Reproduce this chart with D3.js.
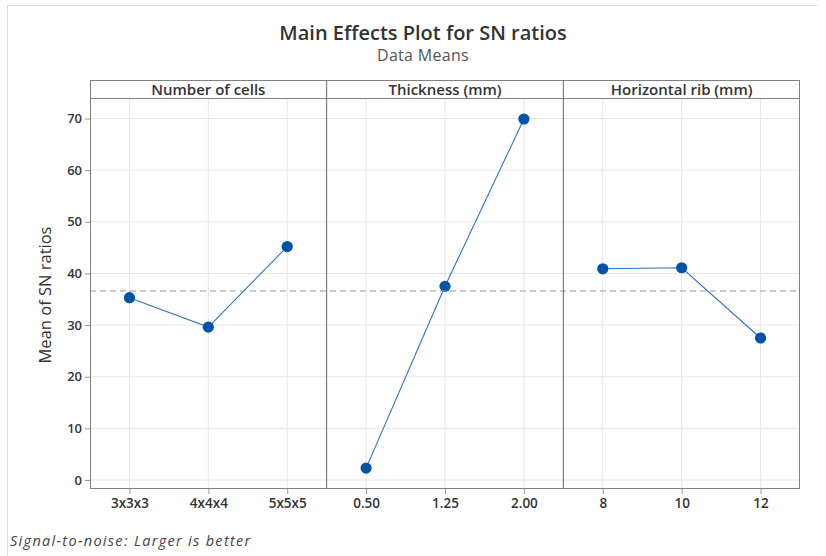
<!DOCTYPE html>
<html><head><meta charset="utf-8">
<script src="https://cdn.jsdelivr.net/npm/d3@7"></script>
<style>
html,body{margin:0;padding:0;background:#fff;}
svg{display:block;font-family:"Open Sans","Noto Sans",sans-serif;}
</style></head>
<body><svg id="c" width="826" height="556"></svg>
<script>
const factors = ["Number of cells", "Thickness (mm)", "Horizontal rib (mm)"];
const levelsCells = ["3x3x3", "4x4x4", "5x5x5"];
const levelsThick = ["0.50", "1.25", "2.00"];
const levelsRib = ["8", "10", "12"];
const meansCells = [35.3, 29.6, 45.2];
const meansThick = [2.3, 37.5, 69.9];
const meansRib = [40.9, 41.1, 27.5];
const grandMean = 36.6;
const yTicks = [0, 10, 20, 30, 40, 50, 60, 70];

const levels = [levelsCells, levelsThick, levelsRib];
const means = [meansCells, meansThick, meansRib];

const svg = d3.select("#c");
const L = 90, R = 800, T = 80, stripH = 18.5, B = 489;
const plotTop = T + stripH;
const pw = (R - L) / 3;

svg.append("line").attr("x1",7).attr("x2",817).attr("y1",5.5).attr("y2",5.5).attr("stroke","#dcdcdc");
svg.append("line").attr("x1",7.5).attr("x2",7.5).attr("y1",5).attr("y2",556).attr("stroke","#dcdcdc");

const y = d3.scaleLinear().domain([0,70]).range([480,118.5]);

svg.append("text").attr("x",423).attr("y",40).attr("text-anchor","middle")
  .attr("font-size",20).attr("font-weight",600).attr("fill","#333").text("Main Effects Plot for SN ratios");
svg.append("text").attr("x",423).attr("y",61).attr("text-anchor","middle")
  .attr("font-size",16).attr("letter-spacing",0.3).attr("fill","#555").text("Data Means");

svg.append("text").attr("transform","translate(51,295) rotate(-90)").attr("text-anchor","middle")
  .attr("font-size",16.5).attr("fill","#333").text("Mean of SN ratios");

svg.append("text").attr("x",10).attr("y",546).attr("font-size",14.5).attr("letter-spacing",1.3)
  .attr("font-style","italic").attr("fill","#444").text("Signal-to-noise: Larger is better");

svg.append("g").selectAll("line").data(yTicks).join("line")
  .attr("x1",L).attr("x2",R).attr("y1",d=>y(d)).attr("y2",d=>y(d))
  .attr("stroke","#e6e6e6").attr("stroke-width",1);

factors.forEach((f,i)=>{
  const x0 = L + i*pw, x1 = L + (i+1)*pw;
  const x = d3.scalePoint().domain(levels[i]).range([x0,x1]).padding(0.5);
  svg.append("g").selectAll("line").data(levels[i]).join("line")
    .attr("x1",d=>x(d)).attr("x2",d=>x(d)).attr("y1",plotTop).attr("y2",B)
    .attr("stroke","#e6e6e6");
  const ax = svg.append("g").attr("transform",`translate(0,${B})`)
    .call(d3.axisBottom(x).tickSize(5).tickPadding(4));
  ax.select(".domain").remove();
  ax.selectAll(".tick line").attr("stroke","#999");
  ax.selectAll(".tick text").attr("font-size",13.5).attr("font-weight",600).attr("fill","#333")
    .attr("font-family","\"Open Sans\",sans-serif");
  svg.append("text").attr("x",(x0+x1)/2).attr("y",T+14.5).attr("text-anchor","middle")
    .attr("font-size",15).attr("font-weight",600).attr("fill","#333").text(f);
  const pts = levels[i].map((l,j)=>({l, v: means[i][j]}));
  svg.append("path").datum(pts)
    .attr("d", d3.line().x(d=>x(d.l)).y(d=>y(d.v)))
    .attr("fill","none").attr("stroke","#2f74c0").attr("stroke-width",1.1);
  svg.append("g").selectAll("circle").data(pts).join("circle")
    .attr("cx",d=>x(d.l)).attr("cy",d=>y(d.v)).attr("r",5.6).attr("fill","#0054a6");
});

svg.append("line").attr("x1",L).attr("x2",R).attr("y1",y(grandMean)).attr("y2",y(grandMean))
  .attr("stroke","#999").attr("stroke-dasharray","6,4").attr("stroke-width",1);

const ay = svg.append("g").attr("transform",`translate(${L},0)`)
  .call(d3.axisLeft(y).tickValues(yTicks).tickSize(5).tickPadding(3));
ay.select(".domain").remove();
ay.selectAll(".tick line").attr("stroke","#999");
ay.selectAll(".tick text").attr("font-size",13).attr("font-weight",600).attr("fill","#333")
  .attr("font-family","\"Open Sans\",sans-serif");

const fr = "#808080";
svg.append("rect").attr("x",L+0.5).attr("y",T+0.5).attr("width",R-L-1).attr("height",B-T-1)
  .attr("fill","none").attr("stroke",fr);
svg.append("line").attr("x1",L).attr("x2",R).attr("y1",plotTop).attr("y2",plotTop).attr("stroke",fr);
[1,2].forEach(k=>{
  svg.append("line").attr("x1",L+k*pw).attr("x2",L+k*pw).attr("y1",T).attr("y2",B).attr("stroke","#666");
});
</script></body></html>
